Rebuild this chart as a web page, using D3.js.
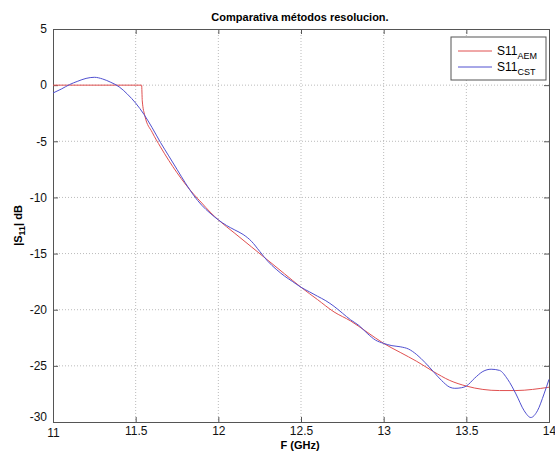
<!DOCTYPE html>
<html>
<head>
<meta charset="utf-8">
<script src="https://cdnjs.cloudflare.com/ajax/libs/d3/7.8.5/d3.min.js"></script>
<style>
  body { margin: 0; background: #fff; }
  svg text { font-family: "Liberation Sans", Arial, sans-serif; }
</style>
</head>
<body>
<div id="chart"></div>
<script>
// frequency (GHz) and |S11| (dB)
const aemFreq = [11.00, 11.536, 11.540, 11.555, 11.60, 11.65, 11.70, 11.75, 11.80, 11.85, 11.90, 11.95,
    12.00, 12.10, 12.20, 12.30, 12.40, 12.50, 12.60, 12.70, 12.80, 12.90, 13.00, 13.10, 13.20,
    13.30, 13.40, 13.50, 13.60, 13.70, 13.80, 13.90, 14.00];
const aemDb = [0, 0, -1.4, -2.7, -4.2, -5.5, -6.7, -7.8, -8.8, -9.7, -10.5, -11.3,
    -12.0, -13.2, -14.4, -15.6, -16.8, -18.0, -19.1, -20.2, -21.0, -22.0, -23.0, -23.8, -24.6,
    -25.5, -26.3, -26.8, -27.1, -27.2, -27.2, -27.1, -26.9];

const cstFreq = [11.00, 11.05, 11.10, 11.15, 11.20, 11.25, 11.30, 11.35, 11.40, 11.45, 11.50, 11.55,
    11.60, 11.65, 11.70, 11.75, 11.80, 11.85, 11.90, 11.95, 12.00, 12.05, 12.10, 12.15, 12.20,
    12.25, 12.30, 12.35, 12.40, 12.45, 12.50, 12.55, 12.60, 12.65, 12.70, 12.75, 12.80, 12.85,
    12.90, 12.95, 13.00, 13.05, 13.10, 13.15, 13.20, 13.25, 13.30, 13.35, 13.40, 13.43, 13.47,
    13.50, 13.55, 13.60, 13.65, 13.70, 13.75, 13.80, 13.85, 13.89, 13.93, 13.97, 14.00];
const cstDb = [-0.7, -0.35, 0.05, 0.35, 0.6, 0.7, 0.55, 0.25, -0.15, -0.8, -1.6, -2.6,
    -3.8, -5.1, -6.3, -7.5, -8.7, -9.8, -10.7, -11.4, -12.0, -12.5, -12.9, -13.3, -13.9,
    -14.8, -15.7, -16.4, -17.0, -17.5, -18.0, -18.4, -18.8, -19.2, -19.7, -20.3, -20.9, -21.4,
    -22.1, -22.7, -23.0, -23.2, -23.3, -23.5, -24.0, -24.7, -25.5, -26.3, -26.9, -27.0, -26.95,
    -26.8, -26.1, -25.5, -25.3, -25.4, -26.2, -27.5, -29.0, -29.6, -29.0, -27.5, -26.2];

const xTicks = [11, 11.5, 12, 12.5, 13, 13.5, 14];
const yTicks = [5, 0, -5, -10, -15, -20, -25, -30];

const width = 555, height = 452;
const margin = { top: 29, right: 6, bottom: 30, left: 53 };

const svg = d3.select("#chart").append("svg")
    .attr("width", width)
    .attr("height", height);

const x = d3.scaleLinear().domain([11, 14]).range([margin.left, width - margin.right]);
const y = d3.scaleLinear().domain([-30, 5]).range([height - margin.bottom, margin.top]);

const x0 = x.range()[0], x1 = x.range()[1];
const y0 = y.range()[0], y1 = y.range()[1];

// grille pointillée
const grid = svg.append("g").attr("stroke", "#bbb").attr("stroke-dasharray", "1,2");
grid.selectAll(".gx").data(xTicks.slice(1, -1)).enter().append("line")
    .attr("x1", d => x(d)).attr("x2", d => x(d))
    .attr("y1", y1).attr("y2", y0);
grid.selectAll(".gy").data(yTicks.slice(1, -1)).enter().append("line")
    .attr("x1", x0).attr("x2", x1)
    .attr("y1", d => y(d)).attr("y2", d => y(d));

// axes (ticks inward, MATLAB style)
const axisColor = "#555";
const xAxis = svg.append("g")
    .attr("transform", `translate(0,${y0})`)
    .call(d3.axisBottom(x).tickValues(xTicks).tickFormat(d3.format("")).tickSize(-5).tickPadding(4));
const yAxis = svg.append("g")
    .attr("transform", `translate(${x0},0)`)
    .call(d3.axisLeft(y).tickValues(yTicks).tickFormat(d => d).tickSize(-5).tickPadding(6));
const xTop = svg.append("g")
    .attr("transform", `translate(0,${y1})`)
    .call(d3.axisTop(x).tickValues(xTicks).tickSize(-5).tickFormat(""));
const yRight = svg.append("g")
    .attr("transform", `translate(${x1},0)`)
    .call(d3.axisRight(y).tickValues(yTicks).tickSize(-5).tickFormat(""));

[xAxis, yAxis, xTop, yRight].forEach(a => {
    a.selectAll("path, line").attr("stroke", axisColor);
    a.selectAll("text").attr("fill", "#111").attr("font-size", "12px")
        .attr("font-family", "'Liberation Sans', Arial, sans-serif");
});
// MATLAB décale un peu les étiquettes du coin
yAxis.selectAll(".tick text").filter(d => d === -30).attr("dy", "-0.1em");
xAxis.selectAll(".tick text").filter(d => d === 11).attr("dy", "0.9em");

// courbes
const line = d3.line()
    .x(d => x(d[0]))
    .y(d => y(d[1]))
    .curve(d3.curveMonotoneX);

const aem = aemFreq.map((f, i) => [f, aemDb[i]]);
const cst = cstFreq.map((f, i) => [f, cstDb[i]]);

const plot = svg.append("g");
plot.append("path").datum(aem)
    .attr("fill", "none").attr("stroke", "#e05050").attr("stroke-width", 1)
    .attr("d", line);
plot.append("path").datum(cst)
    .attr("fill", "none").attr("stroke", "#5050d0").attr("stroke-width", 1)
    .attr("d", line);

// titre et labels
svg.append("text")
    .attr("x", 300).attr("y", 21)
    .attr("text-anchor", "middle")
    .attr("font-size", "11px").attr("font-weight", "bold")
    .text("Comparativa métodos resolucion.");

svg.append("text")
    .attr("x", 300).attr("y", 449)
    .attr("text-anchor", "middle")
    .attr("font-size", "11px").attr("font-weight", "bold")
    .text("F (GHz)");

const yl = svg.append("text")
    .attr("transform", `translate(22,${(y0 + y1) / 2}) rotate(-90)`)
    .attr("text-anchor", "middle")
    .attr("font-size", "11px").attr("font-weight", "bold");
yl.append("tspan").text("|S");
yl.append("tspan").attr("dy", 3).attr("font-size", "9px").text("11");
yl.append("tspan").attr("dy", -3).text("| dB");

// légende
const legend = svg.append("g").attr("transform", "translate(451,37)");
legend.append("rect")
    .attr("width", 95).attr("height", 43)
    .attr("fill", "#fff").attr("stroke", axisColor);
const items = [
    { name: "AEM", color: "#e05050" },
    { name: "CST", color: "#5050d0" }
];
items.forEach((it, i) => {
    const g = legend.append("g").attr("transform", `translate(0,${14 + i * 16})`);
    g.append("line").attr("x1", 7).attr("x2", 41).attr("y1", 0).attr("y2", 0)
        .attr("stroke", it.color);
    const t = g.append("text").attr("x", 46).attr("y", 4).attr("font-size", "12px");
    t.append("tspan").text("S11");
    t.append("tspan").attr("dy", 4).attr("font-size", "9px").text(it.name);
});
</script>
</body>
</html>
